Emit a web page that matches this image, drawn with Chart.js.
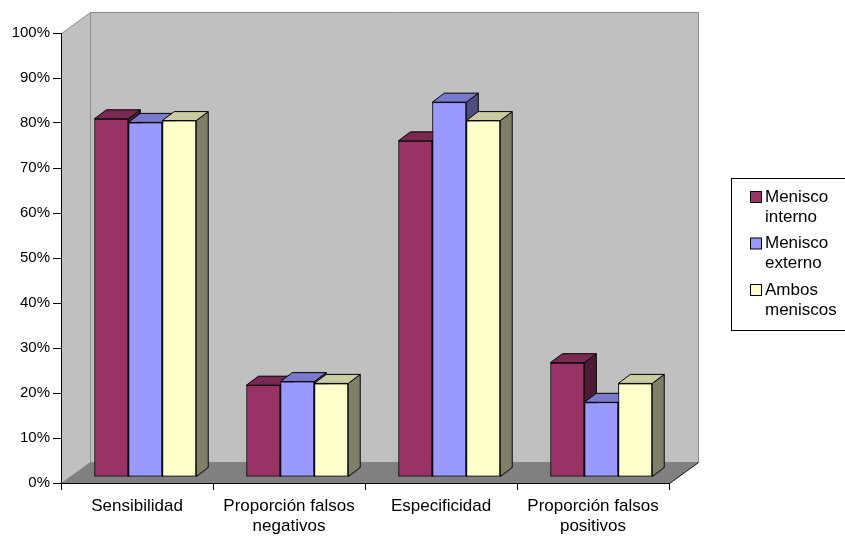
<!DOCTYPE html>
<html>
<head>
<meta charset="utf-8">
<title>Menisco</title>
<script src="https://cdn.jsdelivr.net/npm/chart.js@4/dist/chart.umd.min.js"></script>
<style>
  html, body { margin: 0; padding: 0; background: #ffffff; }
  #wrap { width: 845px; height: 539px; position: relative; }
</style>
</head>
<body>
<div id="wrap"><canvas id="chart" width="845" height="539"></canvas></div>
<script>
// Categories (multi-line axis labels)
const categories = [
  ['Sensibilidad'],
  ['Proporción falsos', 'negativos'],
  ['Especificidad'],
  ['Proporción falsos', 'positivos']
];

// Series names
const seriesNames = ['Menisco interno', 'Menisco externo', 'Ambos meniscos'];

// Percent values per series
const meniscoInterno = [79.6, 20.4, 74.7, 25.4];
const meniscoExterno = [78.8, 21.2, 83.3, 16.6];
const ambosMeniscos  = [79.2, 20.8, 79.2, 20.8];

// Y axis ticks
const yTicks = [0, 10, 20, 30, 40, 50, 60, 70, 80, 90, 100];

// Face colours: front, top, side
const palette = [
  { front: '#993366', top: '#7a2952', side: '#4d1a33' },
  { front: '#9999ff', top: '#7a7acc', side: '#4d4d80' },
  { front: '#ffffcc', top: '#cccca3', side: '#808066' }
];

const FONT = "'Liberation Sans', Arial, sans-serif";

// 3D box geometry (pixels)
const WALL_DX = 29, WALL_DY = 21;   // depth of the whole plot box
const BAR_SHIFT_X = 8.3, BAR_SHIFT_Y = 6; // bar front plane inside the box
const BAR_DX = 12, BAR_DY = 9;      // depth of each bar

// Walls and floor behind everything
const wallsPlugin = {
  id: 'walls',
  beforeDraw(chart) {
    const { ctx, chartArea: a } = chart;
    const L = a.left, R = a.right, T = a.top, B = a.bottom;
    ctx.save();
    ctx.lineWidth = 1;
    // back wall
    ctx.fillStyle = '#c0c0c0';
    ctx.strokeStyle = '#8c8c8c';
    ctx.beginPath();
    ctx.rect(L + WALL_DX + 0.5, T - WALL_DY + 0.5, R - L, B - T);
    ctx.fill();
    ctx.stroke();
    // left side wall
    ctx.beginPath();
    ctx.moveTo(L + 0.5, T + 0.5);
    ctx.lineTo(L + WALL_DX + 0.5, T - WALL_DY + 0.5);
    ctx.lineTo(L + WALL_DX + 0.5, B - WALL_DY + 0.5);
    ctx.lineTo(L + 0.5, B + 0.5);
    ctx.closePath();
    ctx.fill();
    ctx.stroke();
    // floor
    ctx.fillStyle = '#808080';
    ctx.strokeStyle = '#808080';
    ctx.beginPath();
    ctx.moveTo(L + 0.5, B + 0.5);
    ctx.lineTo(R + 0.5, B + 0.5);
    ctx.lineTo(R + WALL_DX + 0.5, B - WALL_DY + 0.5);
    ctx.lineTo(L + WALL_DX + 0.5, B - WALL_DY + 0.5);
    ctx.closePath();
    ctx.fill();
    ctx.stroke();
    // floor right edge
    ctx.strokeStyle = '#222222';
    ctx.beginPath();
    ctx.moveTo(R + 0.5, B + 0.5);
    ctx.lineTo(R + WALL_DX + 0.5, B - WALL_DY + 0.5);
    ctx.stroke();
    ctx.restore();
  }
};

// Bars are drawn set back inside the box, then given top and side faces
const bars3dPlugin = {
  id: 'bars3d',
  beforeDatasetsDraw(chart) {
    chart.ctx.save();
    chart.ctx.translate(BAR_SHIFT_X, -BAR_SHIFT_Y);
  },
  afterDatasetsDraw(chart) {
    const ctx = chart.ctx;
    const n = chart.data.labels.length;
    ctx.lineWidth = 1;
    ctx.strokeStyle = '#000000';
    ctx.lineJoin = 'miter';
    for (let j = 0; j < n; j++) {
      chart.data.datasets.forEach((ds, i) => {
        const meta = chart.getDatasetMeta(i);
        const el = meta.data[j];
        const p = el.getProps(['x', 'y', 'base', 'width'], true);
        const x0 = p.x - p.width / 2, x1 = p.x + p.width / 2;
        const top = p.y, bottom = p.base;
        const c = palette[i];
        // side face
        ctx.fillStyle = c.side;
        ctx.beginPath();
        ctx.moveTo(x1, bottom);
        ctx.lineTo(x1, top);
        ctx.lineTo(x1 + BAR_DX, top - BAR_DY);
        ctx.lineTo(x1 + BAR_DX, bottom - BAR_DY);
        ctx.closePath();
        ctx.fill();
        ctx.stroke();
        // top face
        ctx.fillStyle = c.top;
        ctx.beginPath();
        ctx.moveTo(x0, top);
        ctx.lineTo(x1, top);
        ctx.lineTo(x1 + BAR_DX, top - BAR_DY);
        ctx.lineTo(x0 + BAR_DX, top - BAR_DY);
        ctx.closePath();
        ctx.fill();
        ctx.stroke();
        // front face on top of its neighbours' sides
        el.draw(ctx, chart.chartArea);
      });
    }
    ctx.restore();
  }
};

// Boxed legend at the right with wrapped names
const legendPlugin = {
  id: 'boxLegend',
  afterDraw(chart) {
    const ctx = chart.ctx;
    ctx.save();
    ctx.strokeStyle = '#000000';
    ctx.lineWidth = 1;
    ctx.strokeRect(731.5, 178.5, 130, 152);
    ctx.font = '17px ' + FONT;
    ctx.textBaseline = 'middle';
    ctx.fillStyle = '#000000';
    chart.data.datasets.forEach((ds, i) => {
      const lines = ds.label.split(' ');
      const y0 = 197 + i * 46.5;
      ctx.fillStyle = palette[i].front;
      ctx.fillRect(750.5, y0 - 5.5, 11, 11);
      ctx.strokeRect(750.5, y0 - 5.5, 11, 11);
      ctx.fillStyle = '#000000';
      lines.forEach((t, k) => ctx.fillText(t, 765, y0 + k * 20));
    });
    ctx.restore();
  }
};

const seriesValues = [meniscoInterno, meniscoExterno, ambosMeniscos];

new Chart(document.getElementById('chart'), {
  type: 'bar',
  data: {
    labels: categories,
    datasets: seriesNames.map((name, i) => ({
      label: name,
      data: seriesValues[i],
      backgroundColor: palette[i].front,
      borderColor: '#000000',
      borderWidth: 1,
      borderSkipped: false,
      categoryPercentage: 0.67,
      barPercentage: 1.0
    }))
  },
  options: {
    responsive: false,
    animation: false,
    events: [],
    layout: { padding: { top: 33, right: 176, left: 0, bottom: 0 } },
    plugins: { legend: { display: false }, tooltip: { enabled: false } },
    scales: {
      x: {
        offset: true,
        grid: { display: true, drawOnChartArea: false, drawTicks: true, tickLength: 7, color: '#000000', offset: true },
        border: { display: true, color: '#000000', width: 1 },
        ticks: { color: '#000000', font: { family: FONT, size: 17, lineHeight: 1.18 }, padding: 6, maxRotation: 0, autoSkip: false },
        afterFit(scale) { scale.height = 56; }
      },
      y: {
        min: 0,
        max: 100,
        afterBuildTicks(scale) { scale.ticks = yTicks.map(v => ({ value: v })); },
        grid: { display: true, drawOnChartArea: false, drawTicks: true, tickLength: 8, color: '#000000' },
        border: { display: true, color: '#000000', width: 1 },
        ticks: { color: '#000000', font: { family: FONT, size: 15 }, padding: 3, callback: v => v + '%' },
        afterFit(scale) { scale.width = 61; }
      }
    }
  },
  plugins: [wallsPlugin, bars3dPlugin, legendPlugin]
});
</script>
</body>
</html>
